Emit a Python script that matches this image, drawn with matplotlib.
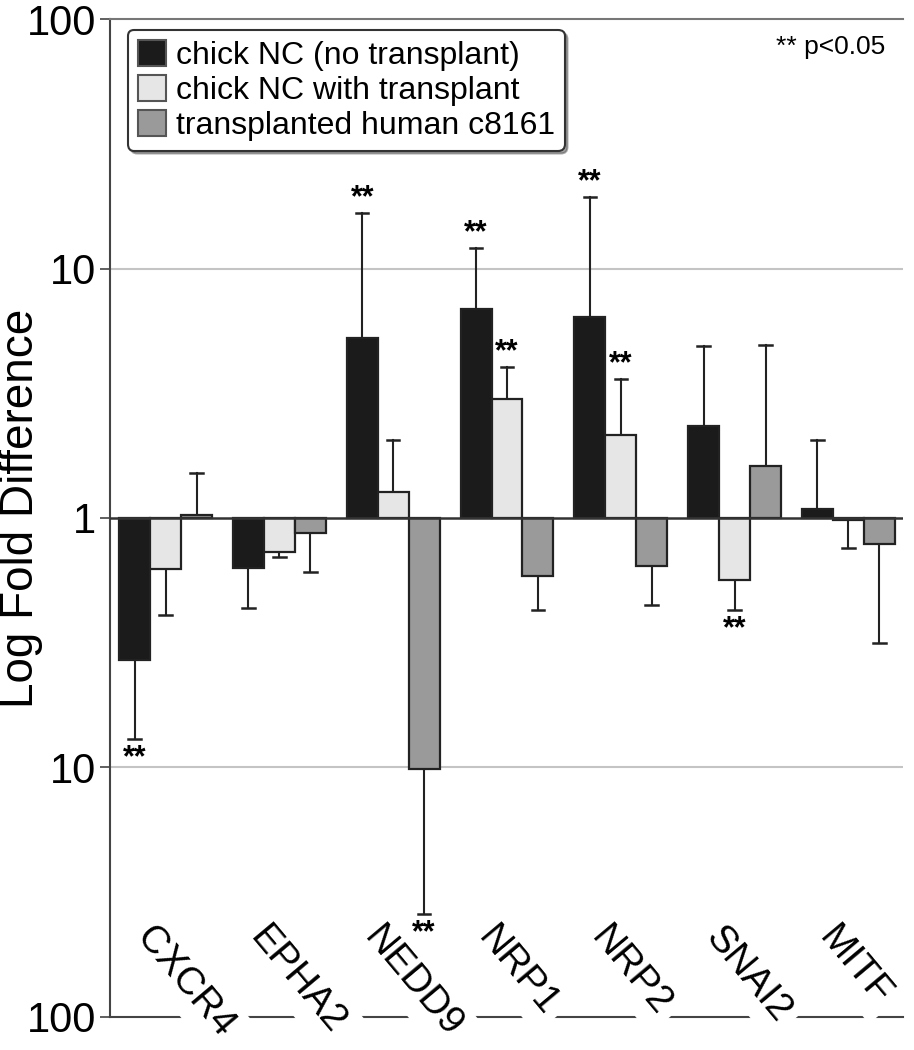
import numpy as np
import matplotlib.pyplot as plt
from matplotlib.patches import Patch

plt.rcParams['font.family'] = ['Liberation Sans', 'DejaVu Sans']

genes = ['CXCR4', 'EPHA2', 'NEDD9', 'NRP1', 'NRP2', 'SNAI2', 'MITF']
series_names = ['chick NC (no transplant)', 'chick NC with transplant', 'transplanted human c8161']

# fold values (below 1 = down-regulated) and the far end of each error bar
no_tx = [0.27, 0.63, 5.27, 6.9, 6.4, 2.33, 1.09]
no_tx_err = [0.13, 0.435, 16.7, 12.1, 19.4, 4.88, 2.06]
with_tx = [0.624, 0.728, 1.27, 3.0, 2.15, 0.562, 0.98]
with_tx_err = [0.409, 0.70, 2.06, 4.02, 3.6, 0.428, 0.76]
human = [1.025, 0.87, 0.098, 0.587, 0.64, 1.62, 0.784]
human_err = [1.52, 0.605, 0.0258, 0.428, 0.447, 4.95, 0.316]

# ** markers (p<0.05)
sig_no_tx = [True, False, True, True, True, False, False]
sig_with_tx = [False, False, False, True, True, True, False]
sig_human = [False, False, True, False, False, False, False]

colors = ['#1b1b1b', '#e6e6e6', '#9a9a9a']
edge = '#222222'

fig = plt.figure(figsize=(9.14, 10.5), dpi=100)
ax = fig.add_axes([0.1204, 0.0318, 0.8676, 0.9498])

x = np.arange(len(genes))
w = 0.272
series = [(no_tx, no_tx_err, sig_no_tx), (with_tx, with_tx_err, sig_with_tx), (human, human_err, sig_human)]

for k, (vals, errs, sig) in enumerate(series):
    vals = np.array(vals)
    errs = np.array(errs)
    xs = x + (k - 1) * w
    ax.bar(xs, vals - 1, bottom=1, width=w, color=colors[k], edgecolor=edge, linewidth=1.6, zorder=3)
    for xi, v, e, s in zip(xs, vals, errs, sig):
        ax.plot([xi, xi], [v, e], color=edge, lw=1.5, zorder=2)
        ax.plot([xi - 0.055, xi + 0.055], [e, e], color=edge, lw=1.8, zorder=2)
        if s:
            if e > 1:
                ax.annotate('**', (xi, e), xytext=(0, 0), textcoords='offset points',
                            ha='center', va='bottom', fontsize=22, fontweight='bold')
            else:
                ax.annotate('**', (xi, e), xytext=(0, -3), textcoords='offset points',
                            ha='center', va='top', fontsize=22, fontweight='bold', zorder=6)

ax.set_yscale('log')
ax.set_ylim(0.01, 100)
ax.set_xlim(-0.488, 6.48)

ax.set_yticks([0.01, 0.1, 1, 10, 100])
ax.set_yticklabels(['100', '10', '1', '10', '100'], fontsize=30)
ax.yaxis.set_minor_locator(plt.NullLocator())
ax.tick_params(axis='y', length=7, width=1.2, color='#444444', pad=3)
ax.set_xticks([])

for yv in [0.1, 10]:
    ax.axhline(yv, color='#c4c4c4', lw=1.5, zorder=1)
ax.axhline(1, color='#333333', lw=1.8, zorder=4)

ax.spines['right'].set_visible(False)
ax.spines['top'].set_color('#777777')
ax.spines['top'].set_linewidth(1.5)
ax.spines['left'].set_color('#444444')
ax.spines['left'].set_linewidth(1.5)
ax.spines['bottom'].set_color('#444444')
ax.spines['bottom'].set_linewidth(1.5)

ax.set_ylabel('Log Fold Difference', fontsize=33)
ax.yaxis.set_label_coords(-0.084, 0.51)

for i, g in enumerate(genes):
    ax.text(i - 0.08, 0.0245, g, rotation=-50, rotation_mode='anchor', ha='left', va='top',
            fontsize=28, zorder=5, clip_on=False,
            bbox=dict(facecolor='white', edgecolor='none', pad=6))

handles = [Patch(facecolor=c, edgecolor='#555555', linewidth=1.5) for c in colors]
leg = ax.legend(handles, series_names, loc='upper left', bbox_to_anchor=(128 / 914, 1 - 30 / 1050),
                bbox_transform=fig.transFigure, fontsize=23, fancybox=True, shadow=True,
                handlelength=0.9, handleheight=0.9, handletextpad=0.3, labelspacing=0.12,
                borderpad=0.3, borderaxespad=0)
leg.get_frame().set_edgecolor('#333333')
leg.get_frame().set_linewidth(1.5)

ax.text(0.977, 0.972, '** p<0.05', transform=ax.transAxes, ha='right', va='center', fontsize=19)

fig.savefig('out.png', dpi=100)
